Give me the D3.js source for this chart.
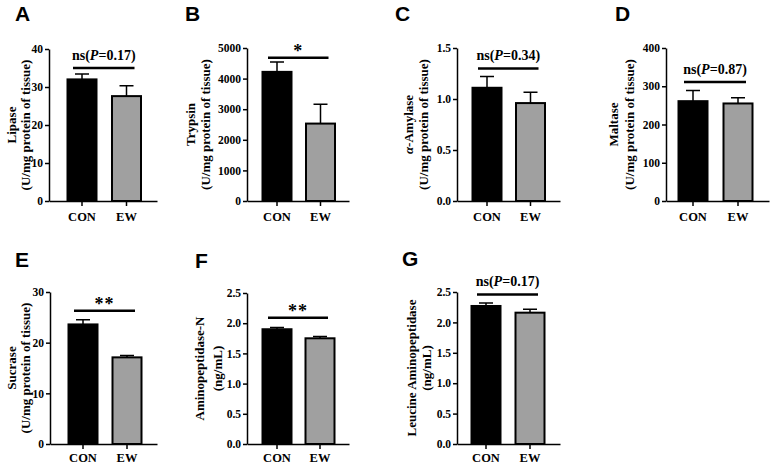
<!DOCTYPE html>
<html>
<head>
<meta charset="utf-8">
<title>enzyme_bars</title>
<script src="https://cdn.jsdelivr.net/npm/d3@7/dist/d3.min.js"></script>
<style>
  body { margin: 0; background: #fff; }
  .domain, .tick line { stroke: #000; stroke-width: 1.5px; }
  .ylab { font-family: "Liberation Serif", serif; font-weight: bold; font-size: 13px; }
  .sig { font-family: "Liberation Serif", serif; font-weight: bold; font-size: 14px; }
  .letter { font-family: "Liberation Sans", Arial, sans-serif; font-weight: bold; font-size: 21px; }
</style>
</head>
<body>
<script>
// values (mean, upper error bar)
var groups = ["CON", "EW"];
var conMean = [32.0, 4220, 1.11, 261, 23.6, 1.90, 2.27];
var conErr  = [1.4, 320, 0.11, 28, 0.9, 0.03, 0.05];
var ewMean  = [27.6, 2530, 0.96, 255, 17.1, 1.75, 2.16];
var ewErr   = [2.7, 630, 0.105, 15, 0.35, 0.03, 0.055];
var yMax    = [40, 5000, 1.5, 400, 30, 2.5, 2.5];
var yStep   = [10, 1000, 0.5, 100, 10, 0.5, 0.5];
var yFmt    = ["d", "d", ".1f", "d", "d", ".1f", ".1f"];
var letters = ["A", "B", "C", "D", "E", "F", "G"];
var yTitle  = ["Lipase", "Trypsin", "α-Amylase", "Maltase", "Sucrase", "Aminopeptidase-N", "Leucine Aminopeptidase"];
var yUnit   = ["(U/mg protein of tissue)", "(U/mg protein of tissue)", "(U/mg protein of tissue)",
               "(U/mg protein of tissue)", "(U/mg protein of tissue)", "(ng/mL)", "(ng/mL)"];
var sigMark = ["ns", "*", "ns", "ns", "**", "**", "ns"];
var sigP    = ["0.17", "", "0.34", "0.87", "", "", "0.17"];
var sigLevel = [35, 4680, 1.30, 311, 26.3, 2.09, 2.46];

// panel geometry
var layout = [
  {left: 49,  right: 157, top: 49,  bottom: 201, c1: 33, c2: 77.5, l1: -38, l2: -24, lx: 15,  ly: 21, pad: 6},
  {left: 247, right: 349, top: 48,  bottom: 201, c1: 30, c2: 73.5, l1: -57, l2: -42, lx: 185, ly: 21, pad: 6},
  {left: 457, right: 560, top: 48,  bottom: 201, c1: 30, c2: 73.5, l1: -49, l2: -34, lx: 395, ly: 21, pad: 6},
  {left: 666, right: 769, top: 48,  bottom: 201, c1: 27, c2: 72,   l1: -53, l2: -37, lx: 615, ly: 21, pad: 6},
  {left: 50,  right: 157, top: 292, bottom: 444, c1: 33, c2: 77,   l1: -39, l2: -25, lx: 15,  ly: 267, pad: 4},
  {left: 247, right: 349, top: 293, bottom: 444, c1: 30, c2: 73,   l1: -48, l2: -30, lx: 195, ly: 268, pad: 4},
  {left: 457, right: 560, top: 292, bottom: 444, c1: 29, c2: 73,   l1: -46, l2: -31, lx: 402, ly: 266, pad: 4}
];
var barW = 29, capW = 14;

var svg = d3.select("body").append("svg")
  .attr("width", 770)
  .attr("height", 464)
  .style("background", "#fff");

letters.forEach(function(letter, i) {
  var L = layout[i];
  var g = svg.append("g");

  var x = d3.scalePoint().domain(groups).range([L.left + L.c1, L.left + L.c2]);
  var y = d3.scaleLinear().domain([0, yMax[i]]).range([L.bottom, L.top]);

  var rows = [
    {grp: "CON", mean: conMean[i], err: conErr[i]},
    {grp: "EW", mean: ewMean[i], err: ewErr[i]}
  ];

  // error bars (upper only) drawn under bars
  g.selectAll(".err").data(rows).enter().append("path")
    .attr("class", "err")
    .attr("d", function(d) {
      var cx = x(d.grp), yt = y(d.mean + d.err);
      return "M" + cx + "," + y(d.mean) + "V" + yt + "M" + (cx - capW / 2) + "," + yt + "H" + (cx + capW / 2);
    })
    .attr("stroke", "#000").attr("stroke-width", 1.5).attr("fill", "none");

  g.selectAll(".bar").data(rows).enter().append("rect")
    .attr("class", "bar")
    .attr("x", function(d) { return x(d.grp) - barW / 2; })
    .attr("y", function(d) { return y(d.mean); })
    .attr("width", barW)
    .attr("height", function(d) { return y(0) - y(d.mean); })
    .attr("fill", function(d) { return d.grp == "CON" ? "#000" : "#a0a0a0"; })
    .attr("stroke", "#000").attr("stroke-width", 2);

  var yAxis = d3.axisLeft(y)
    .tickValues(d3.range(0, yMax[i] + yStep[i] / 2, yStep[i]))
    .tickFormat(d3.format(yFmt[i]))
    .tickSize(4).tickPadding(2).tickSizeOuter(0);
  var yg = g.append("g").attr("transform", "translate(" + L.left + ",0)").call(yAxis);
  yg.selectAll(".tick text")
    .style("font-family", "'Liberation Serif', serif")
    .style("font-weight", "bold").style("font-size", "11.5px");

  var xAxis = d3.axisBottom(d3.scaleBand().domain(groups).range([L.left, L.right]))
    .tickSize(5).tickPadding(L.pad).tickSizeOuter(0);
  var xg = g.append("g").attr("transform", "translate(0," + L.bottom + ")").call(xAxis);
  // shift ticks to bar centres
  xg.selectAll(".tick").attr("transform", function(d) { return "translate(" + x(d) + ",0)"; });
  xg.selectAll(".tick text")
    .style("font-family", "'Liberation Serif', serif")
    .style("font-weight", "bold").style("font-size", "12.5px");

  // y label, two lines
  var cy = (L.top + L.bottom) / 2;
  var t1 = g.append("text").attr("class", "ylab")
    .attr("transform", "translate(" + (L.left + L.l1) + "," + cy + ") rotate(-90)")
    .attr("text-anchor", "middle").attr("dy", "0.35em");
  if (yTitle[i].charAt(0) == "α") {
    t1.append("tspan").style("font-style", "italic").text("α");
    t1.append("tspan").text(yTitle[i].slice(1));
  } else {
    t1.text(yTitle[i]);
  }
  g.append("text").attr("class", "ylab")
    .attr("transform", "translate(" + (L.left + L.l2) + "," + cy + ") rotate(-90)")
    .attr("text-anchor", "middle").attr("dy", "0.35em")
    .text(yUnit[i]);

  // significance line + label
  var sy = y(sigLevel[i]);
  var x1 = x("CON") - 9, x2 = x("EW") + 8;
  g.append("line").attr("x1", x1).attr("x2", x2).attr("y1", sy).attr("y2", sy)
    .attr("stroke", "#000").attr("stroke-width", 2.5);
  var st = g.append("text").attr("class", "sig")
    .attr("x", (x1 + x2) / 2).attr("text-anchor", "middle");
  if (sigP[i]) {
    st.attr("y", sy - 8);
    st.append("tspan").text("ns(");
    st.append("tspan").style("font-style", "italic").text("P");
    st.append("tspan").text("=" + sigP[i] + ")");
  } else {
    st.attr("y", sy - 1).style("font-size", "18px").style("letter-spacing", "1px").text(sigMark[i]);
  }

  g.append("text").attr("class", "letter")
    .attr("x", L.lx).attr("y", L.ly).text(letter);
});
</script>
</body>
</html>
